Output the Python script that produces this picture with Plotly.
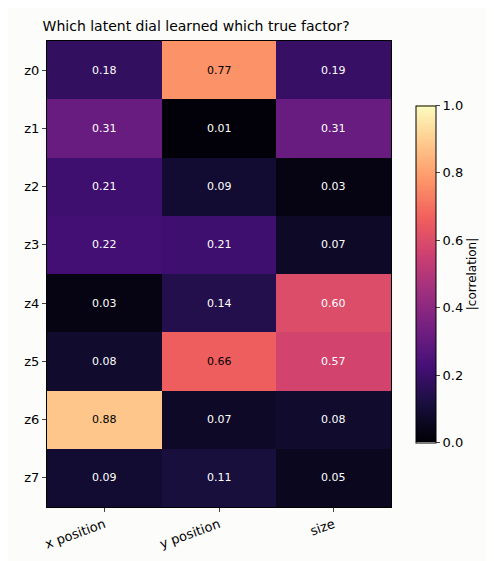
import plotly.graph_objects as go

factors = ["x position", "y position", "size"]
dials = ["z0", "z1", "z2", "z3", "z4", "z5", "z6", "z7"]
corr = [
    [0.18, 0.77, 0.19],
    [0.31, 0.01, 0.31],
    [0.21, 0.09, 0.03],
    [0.22, 0.21, 0.07],
    [0.03, 0.14, 0.60],
    [0.08, 0.66, 0.57],
    [0.88, 0.07, 0.08],
    [0.09, 0.11, 0.05],
]

fig = go.Figure(go.Heatmap(
    z=corr, x=factors, y=dials, colorscale="Magma", zmin=0, zmax=1,
    xgap=0, ygap=0, hoverinfo="skip",
    colorbar=dict(
        title=dict(text="|correlation|", side="right", font=dict(size=12)),
        thickness=20, len=357, lenmode="pixels", x=1.045, xanchor="left",
        y=0.5, yanchor="middle", outlinewidth=1, outlinecolor="black",
        tickvals=[0, 0.2, 0.4, 0.6, 0.8, 1.0], ticktext=["0.0", "0.2", "0.4", "0.6", "0.8", "1.0"],
        ticks="outside", ticklen=4, tickfont=dict(size=13),
    ),
))

# cell labels, dark text on bright cells
for i, row in enumerate(corr):
    for j, v in enumerate(row):
        fig.add_annotation(x=factors[j], y=dials[i], text=f"{v:.2f}", showarrow=False,
                           font=dict(size=11, color="black" if v > 0.62 else "white"))

fig.update_layout(
    width=494, height=561,
    margin=dict(l=39, r=99, t=33, b=62),
    paper_bgcolor="#fcfcfa", plot_bgcolor="#fcfcfa",
    font=dict(family="DejaVu Sans", color="black"),
    title=dict(text="Which latent dial learned which true factor?", x=0.07, xanchor="left",
               y=0.968, yanchor="middle", font=dict(size=14)),
)
fig.update_xaxes(tickangle=-20, ticks="outside", ticklen=4, tickfont=dict(size=13),
                 showline=True, linecolor="black", mirror=True)
fig.update_yaxes(autorange="reversed", ticks="outside", ticklen=4, tickfont=dict(size=13),
                 showline=True, linecolor="black", mirror=True)

fig.write_html("out.html")
